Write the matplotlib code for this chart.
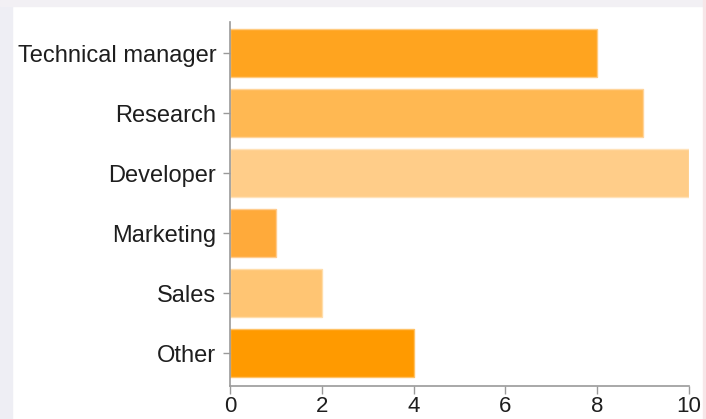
import matplotlib
matplotlib.use("Agg")
import matplotlib.pyplot as plt
from matplotlib.patches import Rectangle

categories = ["Technical manager", "Research", "Developer", "Marketing", "Sales", "Other"]
counts = [8, 9, 10, 1, 2, 4]
colors = ["#FFA41F", "#FFB852", "#FFCD89", "#FFAA3A", "#FFC573", "#FF9A00"]
edges = ["#FFCB80", "#FFD49A", "#FFE2BA", "#FFCC8F", "#FFDDAA", "#FFC266"]
xticks = [0, 2, 4, 6, 8, 10]

plt.rcParams['font.family'] = ['Liberation Sans', 'DejaVu Sans']

fig = plt.figure(figsize=(7.06, 4.19), dpi=100)
fig.patch.set_facecolor("white")
# faint background from the screenshot
fig.patches.append(Rectangle((0, 0), 0.017, 1, transform=fig.transFigure,
                             color="#EEEEF4", zorder=0))
fig.patches.append(Rectangle((0, 0.985), 1, 0.015, transform=fig.transFigure,
                             color="#F2F0F4", zorder=0))
fig.patches.append(Rectangle((0.996, 0), 0.004, 1, transform=fig.transFigure,
                             color="#F6E6E8", zorder=0))

ax = fig.add_axes([0.3258, 0.0788, 0.6501, 0.8687])
ax.set_facecolor("none")

ypos = list(range(len(categories)))
ax.barh(ypos, counts, height=0.8, color=colors, edgecolor=edges, linewidth=1)

ax.set_xlim(0, 10)
ax.set_ylim(5.55, -0.52)
ax.set_xticks(xticks)
ax.set_yticks(ypos)
ax.set_yticklabels(categories)

for s in ["top", "right"]:
    ax.spines[s].set_visible(False)
for s in ["left", "bottom"]:
    ax.spines[s].set_color("#9A9A9A")
    ax.spines[s].set_linewidth(1.2)

ax.tick_params(axis="y", length=5, width=1, color="#9A9A9A", pad=5,
               labelsize=17, labelcolor="#1E1E1E")
ax.tick_params(axis="x", length=6, width=1, color="#9A9A9A", pad=1.5,
               labelsize=16, labelcolor="#1E1E1E")

fig.savefig("out.png", dpi=100)
